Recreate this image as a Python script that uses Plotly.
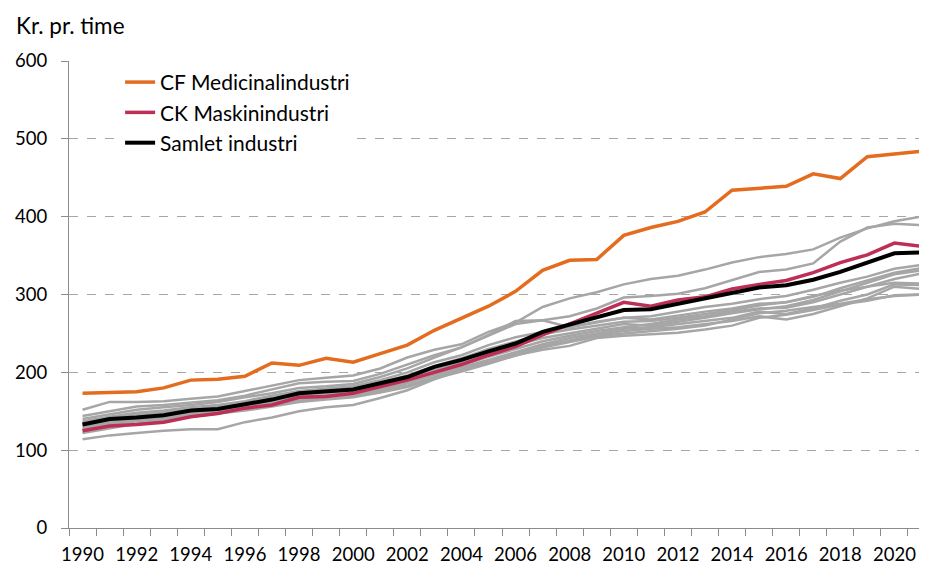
import plotly.graph_objects as go

years = list(range(1990, 2022))

cf_medicinal = [173, 174, 175, 180, 190, 191, 195, 212, 209, 218, 213, 224, 235, 254, 269, 285, 304, 331, 344, 345,
                376, 386, 394, 406, 434, 436, 439, 455, 449, 477, 481, 484]
ck_maskin = [125, 131, 133, 136, 143, 147, 154, 158, 168, 169, 173, 181, 190, 200, 210, 222, 233, 248, 262, 276,
             290, 285, 293, 297, 307, 313, 318, 328, 341, 351, 366, 362]
samlet = [133, 140, 142, 145, 151, 153, 159, 165, 173, 175, 178, 186, 194, 207, 216, 227, 237, 252, 261, 270,
          280, 281, 288, 294, 302, 309, 312, 319, 329, 341, 353, 354]

gray_series = [
    [152, 162, 162, 163, 166, 169, 176, 183, 190, 193, 196, 205, 219, 229, 236, 252, 264, 284, 295, 303,
     313, 320, 324, 332, 341, 348, 352, 358, 373, 385, 394, 400],
    [144, 150, 156, 158, 161, 164, 170, 178, 186, 188, 189, 198, 210, 222, 232, 247, 262, 267, 272, 282,
     296, 298, 301, 308, 319, 329, 332, 340, 368, 386, 391, 389],
    [140, 146, 152, 155, 158, 162, 168, 173, 180, 182, 185, 194, 205, 219, 232, 248, 266, 267, 258, 265,
     270, 268, 273, 278, 282, 288, 290, 298, 305, 310, 315, 314],
    [137, 143, 148, 151, 155, 158, 163, 170, 176, 179, 182, 190, 200, 213, 222, 235, 245, 252, 258, 264,
     270, 272, 278, 284, 288, 294, 298, 306, 315, 323, 333, 338],
    [135, 141, 146, 149, 152, 156, 161, 167, 173, 176, 180, 187, 196, 208, 218, 230, 240, 249, 255, 260,
     265, 266, 270, 275, 280, 286, 290, 297, 308, 318, 328, 334],
    [133, 138, 144, 147, 150, 153, 158, 164, 170, 173, 176, 183, 191, 203, 213, 225, 235, 244, 250, 256,
     262, 260, 265, 270, 276, 281, 285, 293, 304, 315, 326, 331],
    [130, 136, 141, 144, 148, 151, 156, 162, 168, 171, 173, 180, 188, 200, 209, 220, 230, 240, 247, 253,
     258, 262, 268, 272, 278, 282, 283, 290, 300, 310, 320, 327],
    [128, 134, 139, 142, 146, 150, 154, 160, 166, 169, 171, 178, 186, 197, 206, 216, 226, 236, 244, 250,
     256, 258, 262, 266, 270, 278, 275, 282, 292, 300, 313, 312],
    [126, 132, 137, 140, 145, 149, 152, 158, 164, 167, 170, 176, 183, 194, 204, 214, 224, 234, 241, 248,
     253, 256, 258, 262, 266, 272, 268, 275, 285, 295, 310, 307],
    [122, 128, 134, 138, 143, 147, 151, 156, 162, 165, 168, 174, 181, 192, 201, 211, 221, 232, 239, 246,
     250, 253, 256, 260, 268, 276, 279, 284, 288, 294, 298, 300],
    [114, 119, 122, 125, 127, 127, 136, 142, 150, 155, 158, 167, 177, 191, 203, 213, 222, 229, 234, 244,
     247, 249, 251, 255, 260, 270, 274, 280, 287, 292, 299, 300],
]

x_tick_labels = [str(y) for y in range(1990, 2021, 2)]
y_tick_vals = [0, 100, 200, 300, 400, 500, 600]

FONT = "Lato, Carlito, Calibri, sans-serif"
GRAY = "#A6A6A6"
AXIS_GRAY = "#8C8C8C"

fig = go.Figure()

for g in gray_series:
    fig.add_trace(go.Scatter(x=years, y=g, mode="lines", line=dict(color=GRAY, width=2.5),
                             showlegend=False, hoverinfo="skip"))

fig.add_trace(go.Scatter(x=years, y=ck_maskin, mode="lines", name="CK Maskinindustri",
                         line=dict(color="#BE2F55", width=3.5), legendrank=2, legendgroup="b"))
fig.add_trace(go.Scatter(x=years, y=samlet, mode="lines", name="Samlet industri",
                         line=dict(color="#000000", width=4), legendrank=3, legendgroup="c"))
fig.add_trace(go.Scatter(x=years, y=cf_medicinal, mode="lines", name="CF Medicinalindustri",
                         line=dict(color="#E36C1F", width=3.5), legendrank=1, legendgroup="a"))

# The page body has an 8px default margin, so margins are reduced by 8px to compensate.
fig.update_layout(
    width=927, height=568,
    margin=dict(l=61, r=0, t=53, b=48),
    paper_bgcolor="white", plot_bgcolor="white",
    font=dict(family=FONT, size=21, color="#000000"),
    legend=dict(x=0.059, y=0.998, xanchor="left", yanchor="top",
                bgcolor="white", font=dict(size=21, family=FONT),
                traceorder="grouped", tracegroupgap=0),
    xaxis=dict(range=[1989.5, 2021.5], tickmode="array", tickvals=list(range(1990, 2021, 2)),
               ticktext=x_tick_labels, ticks="", showgrid=False, zeroline=False, automargin=False,
               showline=True, linecolor=AXIS_GRAY, linewidth=1, ticklabelstandoff=10,
               tickfont=dict(size=18.5, family=FONT),
               minor=dict(tickmode="linear", tick0=1989.5, dtick=1, ticks="outside",
                          ticklen=7, tickcolor=AXIS_GRAY, showgrid=False)),
    yaxis=dict(range=[0, 600], tickmode="array", tickvals=y_tick_vals, ticks="outside", ticklen=7,
               tickcolor=AXIS_GRAY, showline=True, linecolor=AXIS_GRAY, linewidth=1, automargin=False,
               showgrid=True, gridcolor="#A6A6A6", griddash="dash", gridwidth=1, zeroline=False,
               ticklabelstandoff=10, tickfont=dict(size=18.5, family=FONT)),
    annotations=[dict(text="Kr. pr. time", xref="paper", yref="paper", x=-0.063, y=1.077,
                      xanchor="left", yanchor="middle", showarrow=False,
                      font=dict(size=22.5, family=FONT))],
)

fig.write_html("out.html")
